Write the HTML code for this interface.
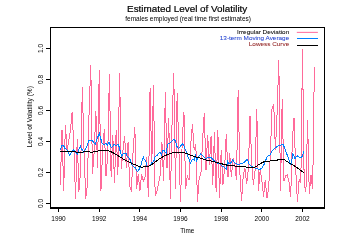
<!DOCTYPE html>
<html><head><meta charset="utf-8"><style>
html,body{margin:0;padding:0;background:#fff;width:347px;height:243px;overflow:hidden}
svg{position:absolute;left:0;top:0;font-family:"Liberation Sans", sans-serif;will-change:transform}
</style></head><body>
<svg width="347" height="243" viewBox="0 0 347 243">
<path d="M60.30,185.00 L61.99,129.80 L63.69,190.60 L65.38,124.90 L67.08,150.00 L68.77,141.00 L70.46,129.60 L72.16,112.00 L73.85,147.00 L75.54,198.50 L77.24,139.00 L78.93,191.50 L80.63,170.00 L82.32,87.10 L84.01,149.00 L85.71,198.50 L87.40,184.70 L89.09,112.00 L90.79,64.80 L92.48,173.70 L94.18,152.50 L95.87,111.00 L97.56,168.00 L99.26,69.80 L100.95,190.60 L102.64,150.00 L104.34,128.70 L106.03,176.30 L107.73,155.00 L109.42,73.70 L111.11,177.00 L112.81,135.50 L114.50,183.00 L116.20,130.00 L117.89,174.60 L119.58,72.90 L121.28,168.70 L122.97,150.00 L124.66,136.30 L126.36,168.00 L128.05,142.20 L129.75,186.00 L131.44,191.50 L133.13,150.00 L134.83,127.10 L136.52,188.90 L138.21,174.00 L139.91,190.60 L141.60,174.00 L143.30,181.30 L144.99,177.10 L146.68,157.00 L148.38,196.50 L150.07,88.00 L151.77,165.00 L153.46,85.00 L155.15,196.00 L156.85,192.00 L158.54,183.00 L160.23,175.00 L161.93,142.20 L163.62,181.30 L165.32,92.10 L167.01,168.00 L168.70,117.70 L170.40,199.00 L172.09,122.00 L173.78,72.90 L175.48,188.90 L177.17,93.00 L178.87,150.00 L180.56,201.60 L182.25,140.00 L183.95,112.00 L185.64,188.90 L187.33,176.00 L189.03,180.00 L190.72,145.00 L192.42,124.50 L194.11,150.00 L195.80,143.90 L197.50,201.60 L199.19,178.00 L200.89,174.60 L202.58,140.00 L204.27,113.00 L205.97,170.40 L207.66,134.60 L209.35,165.00 L211.05,136.30 L212.74,184.70 L214.44,132.10 L216.13,192.30 L217.82,129.60 L219.52,198.20 L221.21,150.00 L222.90,184.70 L224.60,168.00 L226.29,133.80 L227.99,177.10 L229.68,153.20 L231.37,177.10 L233.07,158.30 L234.76,165.00 L236.46,179.60 L238.15,90.00 L239.84,172.00 L241.54,200.70 L243.23,176.00 L244.92,168.00 L246.62,183.90 L248.31,170.00 L250.01,116.10 L251.70,162.00 L253.39,184.70 L255.09,170.00 L256.78,109.00 L258.47,190.60 L260.17,170.00 L261.86,180.00 L263.56,196.50 L265.25,180.00 L266.94,198.20 L268.64,188.00 L270.33,155.00 L272.02,109.00 L273.72,103.90 L275.41,150.00 L277.11,113.00 L278.80,60.20 L280.49,190.60 L282.19,98.90 L283.88,181.00 L285.58,176.00 L287.27,175.00 L288.96,182.00 L290.66,197.40 L292.35,140.00 L294.04,117.80 L295.74,170.00 L297.43,201.60 L299.13,179.60 L300.82,183.00 L302.51,48.90 L304.21,185.00 L305.90,191.50 L307.59,120.00 L309.29,194.00 L310.98,175.00 L312.68,189.00 L314.37,66.70" fill="none" stroke="#ff6a9a" stroke-width="1" shape-rendering="crispEdges"/>
<path d="M60.40,150.10 L61.70,145.90 L63.40,145.40 L65.00,148.40 L67.00,150.10 L69.70,155.60 L71.70,151.80 L73.40,149.70 L75.10,152.10 L77.10,154.30 L79.20,148.40 L80.40,146.40 L81.80,149.20 L83.80,152.60 L85.00,150.30 L86.90,146.60 L88.70,140.40 L92.40,140.40 L94.30,143.50 L95.50,144.10 L97.40,137.90 L99.30,133.60 L100.50,137.90 L102.30,143.50 L104.20,144.70 L106.10,143.50 L107.30,145.30 L109.20,142.30 L111.00,147.20 L112.90,146.60 L114.10,144.10 L116.00,146.00 L117.80,144.10 L119.10,146.60 L120.40,152.20 L121.60,155.90 L122.90,154.30 L124.10,153.40 L126.20,153.80 L127.50,156.80 L128.70,157.20 L130.00,159.50 L130.80,161.80 L132.00,165.10 L133.70,166.80 L135.40,167.90 L137.40,171.60 L139.30,169.20 L141.20,164.80 L142.30,159.40 L143.50,157.40 L144.30,159.40 L145.90,160.90 L146.30,165.60 L147.80,166.40 L150.20,165.60 L151.70,162.50 L153.70,161.70 L155.20,156.30 L156.80,155.90 L158.75,153.10 L160.30,152.30 L161.50,155.10 L162.70,150.80 L163.80,150.00 L166.20,153.50 L167.50,144.30 L169.30,143.60 L171.20,141.80 L173.70,139.30 L175.50,141.20 L176.80,146.10 L178.60,148.60 L180.50,146.10 L182.30,143.60 L184.20,146.10 L185.40,149.80 L187.30,154.80 L188.40,157.60 L190.40,163.10 L192.50,159.20 L194.20,160.10 L195.40,155.90 L196.70,160.90 L198.70,156.70 L200.90,153.70 L203.40,156.70 L206.00,158.60 L207.90,157.40 L211.00,157.40 L212.80,159.30 L214.70,161.10 L217.20,163.00 L219.60,163.60 L222.10,166.10 L224.60,167.30 L226.40,169.20 L227.70,161.70 L228.90,163.60 L230.80,163.00 L232.60,159.90 L233.90,161.70 L235.70,163.60 L237.60,164.20 L239.50,164.80 L241.30,163.00 L243.20,163.00 L245.70,161.10 L247.00,159.20 L248.20,161.70 L249.50,164.80 L252.00,166.60 L254.40,167.60 L259.40,169.70 L261.90,167.90 L264.30,164.20 L266.80,157.30 L268.70,155.50 L270.50,154.90 L271.80,151.20 L273.60,149.30 L276.10,147.40 L278.60,145.60 L281.10,145.00 L282.90,144.30 L284.80,148.10 L286.70,153.60 L288.50,158.60 L290.90,165.00 L292.90,153.70 L295.00,158.80 L297.00,155.70 L300.10,157.80 L302.20,156.70 L303.80,151.60" fill="none" stroke="#0080ff" stroke-width="1" shape-rendering="crispEdges"/>
<path d="M60.30,151.30 C61.58,151.38 65.43,151.68 68.00,151.80 C70.57,151.92 73.12,151.97 75.70,152.00 C78.28,152.03 81.78,152.10 83.50,152.00 C85.22,151.90 84.72,151.38 86.00,151.40 C87.28,151.42 89.53,152.07 91.20,152.10 C92.87,152.13 94.55,151.88 96.00,151.60 C97.45,151.32 98.02,150.57 99.90,150.40 C101.78,150.23 105.28,150.30 107.30,150.60 C109.32,150.90 110.52,151.52 112.00,152.20 C113.48,152.88 114.80,153.87 116.20,154.70 C117.60,155.53 119.02,156.37 120.40,157.20 C121.78,158.03 123.12,158.93 124.50,159.70 C125.88,160.47 127.30,161.10 128.70,161.80 C130.10,162.50 131.50,163.28 132.90,163.90 C134.30,164.52 135.85,165.02 137.10,165.50 C138.35,165.98 139.75,166.55 140.40,166.80 C141.05,167.05 140.23,166.98 141.00,167.00 C141.77,167.02 143.60,167.07 145.00,166.90 C146.40,166.73 148.15,166.47 149.40,166.00 C150.65,165.53 151.47,164.82 152.50,164.10 C153.53,163.38 154.56,162.48 155.60,161.70 C156.64,160.92 157.70,160.12 158.75,159.40 C159.80,158.68 160.86,158.03 161.90,157.40 C162.94,156.77 163.87,156.13 165.00,155.60 C166.13,155.07 167.25,154.72 168.70,154.20 C170.15,153.68 172.05,152.82 173.70,152.50 C175.35,152.18 176.75,152.23 178.60,152.30 C180.45,152.37 182.93,152.48 184.80,152.90 C186.67,153.32 188.15,154.18 189.80,154.80 C191.45,155.42 193.05,156.08 194.70,156.60 C196.35,157.12 198.03,157.42 199.70,157.90 C201.37,158.38 203.65,159.17 204.70,159.50 C205.75,159.83 204.95,159.63 206.00,159.90 C207.05,160.17 209.35,160.70 211.00,161.10 C212.65,161.50 214.25,161.88 215.90,162.30 C217.55,162.72 219.25,163.18 220.90,163.60 C222.55,164.02 224.28,164.43 225.80,164.80 C227.32,165.17 227.93,165.58 230.00,165.80 C232.07,166.02 236.00,165.95 238.20,166.10 C240.40,166.25 241.55,166.50 243.20,166.70 C244.85,166.90 246.63,167.10 248.10,167.30 C249.57,167.50 250.73,168.02 252.00,167.90 C253.27,167.78 254.47,167.22 255.70,166.60 C256.93,165.98 257.97,165.02 259.40,164.20 C260.83,163.38 262.65,162.22 264.30,161.70 C265.95,161.18 267.63,161.32 269.30,161.10 C270.97,160.88 272.65,160.62 274.30,160.40 C275.95,160.18 277.77,160.00 279.20,159.80 C280.63,159.60 281.87,159.10 282.90,159.20 C283.93,159.30 284.37,159.78 285.40,160.40 C286.43,161.02 287.50,161.92 289.10,162.90 C290.70,163.88 292.55,164.65 295.00,166.30 C297.45,167.95 302.33,171.72 303.80,172.80" fill="none" stroke="#000" stroke-width="1" shape-rendering="crispEdges"/>
<g fill="#000" shape-rendering="crispEdges">
<rect x="50" y="27" width="275" height="1"/>
<rect x="50" y="27" width="1" height="182"/>
<rect x="324" y="27" width="1" height="182"/>
<rect x="50" y="207" width="275" height="2"/>
<rect x="46" y="203" width="4" height="1"/>
<rect x="46" y="172" width="4" height="1"/>
<rect x="46" y="141" width="4" height="1"/>
<rect x="46" y="110" width="4" height="1"/>
<rect x="46" y="79" width="4" height="1"/>
<rect x="46" y="48" width="4" height="1"/>
<rect x="58" y="209" width="1" height="3"/>
<rect x="99" y="209" width="1" height="3"/>
<rect x="139" y="209" width="1" height="3"/>
<rect x="180" y="209" width="1" height="3"/>
<rect x="221" y="209" width="1" height="3"/>
<rect x="261" y="209" width="1" height="3"/>
<rect x="302" y="209" width="1" height="3"/>
</g>
<text x="0" y="0" transform="translate(43.3,203.5) rotate(-90)" text-anchor="middle" font-size="6.5">0.0</text>
<text x="0" y="0" transform="translate(43.3,172.5) rotate(-90)" text-anchor="middle" font-size="6.5">0.2</text>
<text x="0" y="0" transform="translate(43.3,141.5) rotate(-90)" text-anchor="middle" font-size="6.5">0.4</text>
<text x="0" y="0" transform="translate(43.3,110.5) rotate(-90)" text-anchor="middle" font-size="6.5">0.6</text>
<text x="0" y="0" transform="translate(43.3,79.5) rotate(-90)" text-anchor="middle" font-size="6.5">0.8</text>
<text x="0" y="0" transform="translate(43.3,48.5) rotate(-90)" text-anchor="middle" font-size="6.5">1.0</text>
<text x="58.5" y="221" text-anchor="middle" font-size="6.5">1990</text>
<text x="99.1666" y="221" text-anchor="middle" font-size="6.5">1992</text>
<text x="139.8332" y="221" text-anchor="middle" font-size="6.5">1994</text>
<text x="180.4998" y="221" text-anchor="middle" font-size="6.5">1996</text>
<text x="221.1664" y="221" text-anchor="middle" font-size="6.5">1998</text>
<text x="261.833" y="221" text-anchor="middle" font-size="6.5">2000</text>
<text x="302.4996" y="221" text-anchor="middle" font-size="6.5">2002</text>
<text x="187.3" y="232.9" text-anchor="middle" font-size="6.35">Time</text>
<text x="0" y="0" transform="translate(32.3,116.7) rotate(-90)" text-anchor="middle" font-size="6.6">Level of Volatility (%)</text>
<text x="187.2" y="11.5" text-anchor="middle" font-size="9.9" stroke="#000" stroke-width="0.2">Estimated Level of Volatility</text>
<text x="188.1" y="20.75" text-anchor="middle" font-size="6.5">females employed (real time first estimates)</text>
<g transform="translate(289.2,0) scale(1.14,1)">
<text x="0" y="33.8" text-anchor="end" font-size="5.6" fill="#000" stroke="#000" stroke-width="0.05">Irregular Deviation</text>
<text x="0" y="40.3" text-anchor="end" font-size="5.6" fill="#2040d0" stroke="#2040d0" stroke-width="0.05">13-term Moving Average</text>
<text x="0" y="46.5" text-anchor="end" font-size="5.6" fill="#902020" stroke="#902020" stroke-width="0.05">Lowess Curve</text>
</g>
<line x1="296.8" y1="32.36" x2="317.9" y2="32.36" stroke="#ff6a9a" stroke-width="1"/>
<line x1="296.8" y1="38.45" x2="317.9" y2="38.45" stroke="#0080ff" stroke-width="1" shape-rendering="crispEdges"/>
<line x1="296.8" y1="45.45" x2="317.9" y2="45.45" stroke="#000" stroke-width="1" shape-rendering="crispEdges"/>
</svg>
</body></html>
